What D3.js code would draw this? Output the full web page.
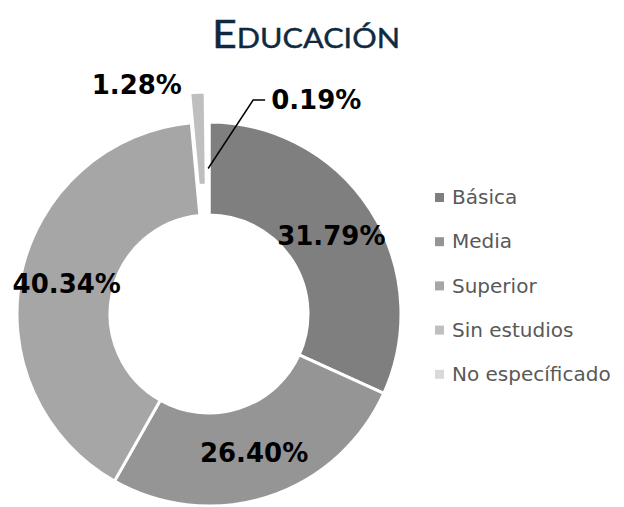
<!DOCTYPE html>
<html>
<head>
<meta charset="utf-8">
<script src="https://cdn.jsdelivr.net/npm/d3@7"></script>
<style>
    body { margin: 0; background: #fff; }
    svg { display: block; }
</style>
</head>
<body>
<svg id="chart" width="624" height="507"></svg>
<script>
var categories = ["Básica", "Media", "Superior", "Sin estudios", "No específicado"];
var values = [31.79, 26.40, 40.34, 1.28, 0.19];
var colors = ["#7f7f7f", "#959595", "#a6a6a6", "#bfbfbf", "#d9d9d9"];
var exploded = [0, 0, 0, 30, 0];   // px the slice is pulled out
var title = "Educación";

var width = 624,
    height = 507;

var cx = 209, cy = 314,
    outerR = 192, innerR = 99;

var svg = d3.select("#chart");

svg.append("text")
    .attr("x", 306)
    .attr("y", 48)
    .attr("text-anchor", "middle")
    .style("font-family", "Lato, 'Open Sans', sans-serif")
    .style("font-size", "38px")
    .style("font-variant", "small-caps")
    .attr("textLength", 188)
    .attr("lengthAdjust", "spacingAndGlyphs")
    .attr("fill", "#0f2a40")
    .attr("stroke", "#0f2a40")
    .attr("stroke-width", 0.4)
    .text(title);

var data = categories.map(function(c, i) {
    return {name: c, value: values[i], color: colors[i], explode: exploded[i]};
});

var pie = d3.pie()
    .value(function(d) { return d.value; })
    .sort(null);

var arc = d3.arc()
    .innerRadius(innerR)
    .outerRadius(outerR);

var arcs = pie(data);

function offset(d) {
    var a = (d.startAngle + d.endAngle) / 2;
    return [Math.sin(a) * d.data.explode, -Math.cos(a) * d.data.explode];
}

var viz = svg.append("g")
    .attr("transform", "translate(" + cx + "," + cy + ")");

viz.selectAll("path")
    .data(arcs)
    .enter()
    .append("path")
        .attr("d", arc)
        .attr("transform", function(d) { return "translate(" + offset(d) + ")"; })
        .attr("fill", function(d) { return d.data.color; })
        .attr("stroke", "#fff")
        .attr("stroke-width", 3)
        .attr("stroke-linejoin", "round");

// labels inside the ring for the big slices
var labelStyle = function(sel) {
    sel.style("font-family", "'DejaVu Sans', Verdana, sans-serif")
        .style("font-size", "26px")
        .style("font-weight", "bold")
        .attr("fill", "#000");
};

viz.selectAll("text.inner")
    .data(arcs.filter(function(d) { return d.data.value > 5; }))
    .enter()
    .append("text")
        .attr("class", "inner")
        .attr("transform", function(d) { return "translate(" + arc.centroid(d) + ")"; })
        .attr("text-anchor", "middle")
        .attr("dy", "0.36em")
        .call(labelStyle)
        .text(function(d) { return d.data.value.toFixed(2) + "%"; });

// Sin estudios label, sits left of the pulled out slice
var sin = arcs[3];
var sinPos = d3.arc().innerRadius(outerR + 40).outerRadius(outerR + 40).centroid(sin);
viz.append("text")
    .attr("x", sinPos[0] - 15)
    .attr("y", sinPos[1] + 2)
    .attr("text-anchor", "end")
    .attr("dy", "0.36em")
    .call(labelStyle)
    .text(sin.data.value.toFixed(2) + "%");

// No especificado label with leader line
var noEsp = arcs[4];
var p0 = arc.centroid(noEsp);
var p1 = [p0[0] + 45, -outerR - 22];
var p2 = [p1[0] + 12, p1[1]];
viz.append("polyline")
    .attr("points", [p0, p1, p2].map(function(p) { return p.join(","); }).join(" "))
    .attr("fill", "none")
    .attr("stroke", "#000")
    .attr("stroke-width", 1.5);
viz.append("text")
    .attr("x", p2[0] + 6)
    .attr("y", p2[1])
    .attr("dy", "0.36em")
    .call(labelStyle)
    .text(noEsp.data.value.toFixed(2) + "%");

// legend
var legend = svg.append("g")
    .attr("transform", "translate(435,197)");

var item = legend.selectAll("g")
    .data(data)
    .enter()
    .append("g")
        .attr("transform", function(d, i) { return "translate(0," + i * 44.2 + ")"; });

item.append("rect")
    .attr("x", 0)
    .attr("y", -4)
    .attr("width", 9)
    .attr("height", 9)
    .attr("fill", function(d) { return d.color; });

item.append("text")
    .attr("x", 17)
    .attr("y", 0)
    .attr("dy", "0.36em")
    .style("font-family", "'DejaVu Sans', Verdana, sans-serif")
    .style("font-size", "20px")
    .attr("fill", "#595959")
    .text(function(d) { return d.name; });
</script>
</body>
</html>
